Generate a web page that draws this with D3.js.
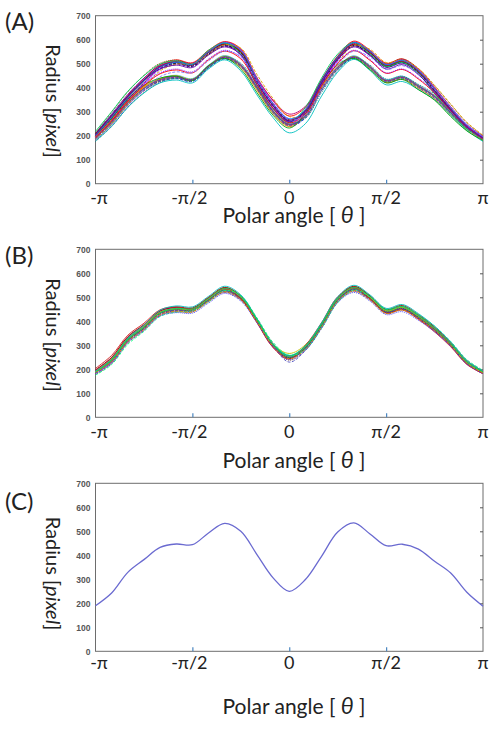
<!DOCTYPE html>
<html><head><meta charset="utf-8">
<script src="https://cdn.jsdelivr.net/npm/d3@7"></script>
<style>
html,body{margin:0;padding:0;background:#fff;}
svg{display:block;}
</style></head>
<body>
<svg id="chart" width="494" height="744"></svg>
<script>
// ---------------- DATA ----------------
const angleDeg = [-180,-165,-150,-135,-120,-105,-90,-75,-60,-45,-30,-15,0,15,30,45,60,75,90,105,120,135,150,165,180];
const xTickValues = [-Math.PI, -Math.PI/2, 0, Math.PI/2, Math.PI];
const xTickLabels = ["-\u03c0", "-\u03c0/2", "0", "\u03c0/2", "\u03c0"];
const yTickValues = [0,100,200,300,400,500,600,700];

// Panel A: individual radius profiles (upper and lower groups)
const curvesA = [
 [206,282,368,438,496,516,504,556,592,562,442,345,282,318,432,532,594,556,502,520,478,402,320,246,198],
 [194,264,346,416,478,498,488,538,572,542,420,322,258,292,410,512,572,538,486,503,460,384,305,234,188],
 [210,290,372,440,492,508,494,550,578,535,410,315,258,310,432,528,578,535,485,502,458,378,300,232,190],
 [192,258,340,410,475,502,498,540,582,560,445,345,272,292,405,510,582,556,498,515,475,402,322,248,196],
 [202,276,360,430,488,510,500,548,585,553,433,333,268,304,424,524,586,549,495,514,471,395,315,242,194],
 [198,268,350,420,482,502,490,540,575,546,426,326,262,296,414,516,576,540,488,506,464,388,308,236,190],
 [204,280,362,432,490,512,502,552,590,558,438,348,290,322,428,530,590,552,498,518,474,398,318,244,196],
 [196,266,348,418,480,500,492,542,576,548,428,328,262,298,416,518,574,543,490,508,466,390,310,238,190],
 [208,285,365,433,486,506,497,547,583,548,425,325,262,304,425,526,583,546,490,508,465,388,308,236,188],
 [195,262,345,418,483,507,498,550,586,556,437,337,268,296,414,516,584,550,497,514,472,397,318,245,197],
 [200,274,357,426,487,507,496,546,581,551,431,331,266,301,421,521,581,546,493,511,469,393,313,241,193],
 [212,298,382,452,502,515,500,550,584,548,428,330,266,304,424,526,586,550,500,520,480,408,330,254,200],
 [192,260,342,402,438,452,438,494,534,498,406,306,250,286,402,488,533,491,434,448,411,368,300,236,188],
 [184,250,328,388,426,438,426,482,520,486,394,294,240,274,388,476,521,479,422,436,399,356,290,228,182],
 [196,266,345,404,438,448,432,490,525,485,390,292,238,284,402,488,525,480,422,436,398,354,288,226,182],
 [180,246,326,386,426,442,432,486,528,498,408,308,250,276,388,476,528,490,432,446,410,368,300,236,188],
 [190,258,338,398,435,448,435,491,530,495,403,303,247,283,398,485,530,488,431,445,408,365,297,234,186],
 [186,252,332,392,429,442,429,485,524,489,397,297,243,277,392,479,524,482,425,439,402,359,292,230,183],
 [194,262,340,400,436,450,436,492,532,494,400,300,244,282,398,486,531,488,430,444,407,364,296,233,186],
 [182,248,330,390,428,440,428,484,522,490,400,302,248,278,390,478,523,484,427,440,404,362,296,234,188],
 [189,256,336,396,433,446,433,489,528,493,401,301,246,281,396,483,528,486,429,443,406,363,296,233,185],
 [187,254,334,394,431,444,431,487,526,491,399,299,244,279,394,481,526,484,427,441,404,361,294,231,184],
 [178,240,318,378,420,432,420,478,516,470,370,275,212,250,365,465,518,472,412,426,392,350,285,222,176],
 [191,258,337,397,434,447,434,490,529,494,402,302,247,282,397,484,529,487,430,444,407,364,297,234,187],
 [218,300,385,450,498,512,498,556,586,540,412,312,255,318,440,540,588,540,488,505,458,375,295,228,192],
 [186,250,330,402,470,498,500,538,578,565,455,355,280,288,398,502,576,560,505,515,480,410,332,256,202],
 [200,272,352,410,440,448,430,492,522,478,380,285,232,292,410,495,522,475,420,434,392,348,280,220,180],
 [176,238,318,380,422,440,434,484,528,502,415,315,256,272,380,470,526,494,436,448,414,374,306,242,192],
 [201,277,359,428,486,506,498,549,587,556,434,334,270,306,425,527,588,552,496,514,472,396,316,243,195],
 [190,257,336,396,431,444,432,489,526,492,401,302,244,282,396,484,527,486,428,442,406,363,296,233,186],
 [194,262,344,408,458,474,462,516,552,520,414,314,254,290,408,500,554,514,460,476,436,378,304,238,190],
 [198,268,350,414,462,478,466,520,556,526,420,318,258,294,412,504,556,518,462,478,440,382,308,240,192],
 [205,283,364,432,478,494,484,536,570,538,424,324,262,302,420,518,570,534,478,496,454,384,306,236,190],
 [183,244,324,392,446,466,462,512,552,530,428,330,266,286,394,492,552,528,476,492,456,392,318,246,196]
];

// Panel B: aligned radius profiles
const curvesB = [
 [194,244,330,382,442,458,452,498,540,506,410,306,255,296,390,498,544,505,448,462,424,373,309,232,190],
 [182,228,314,366,427,442,441,483,522,489,396,294,245,284,375,482,527,490,435,449,412,362,300,225,184],
 [196,248,334,384,442,455,450,494,532,494,396,292,244,292,388,496,538,494,436,450,412,360,298,222,182],
 [180,226,312,364,426,444,444,486,530,500,410,308,256,286,376,484,532,500,446,460,424,375,312,236,194],
 [190,238,325,376,437,452,449,493,533,500,406,303,252,292,385,493,538,500,444,458,421,370,307,230,189],
 [186,234,319,370,431,446,444,487,527,494,400,297,248,288,379,487,532,494,438,452,415,366,303,228,187],
 [192,242,328,380,440,456,452,496,537,503,408,302,252,294,387,495,541,502,446,460,422,371,308,231,190],
 [184,230,316,367,428,443,442,485,524,492,399,298,248,286,378,485,529,492,437,451,414,364,302,226,186],
 [189,237,323,374,435,450,448,491,531,498,404,301,251,291,383,491,536,498,442,456,419,369,306,229,188],
 [187,235,321,372,433,448,446,489,529,496,402,299,249,289,381,489,534,496,440,454,417,367,304,228,187],
 [198,250,336,386,444,460,456,499,541,504,404,298,246,294,390,498,546,506,450,466,428,376,312,236,192],
 [178,224,310,362,424,439,438,481,520,488,398,298,238,280,372,480,524,488,432,446,410,360,298,224,182],
 [191,240,326,378,438,453,450,494,535,502,407,303,253,293,386,494,539,501,445,459,421,370,307,230,189],
 [185,232,318,369,430,445,443,486,526,493,399,297,247,287,378,486,531,493,437,451,415,366,303,227,186],
 [193,245,331,381,439,452,448,492,534,499,404,300,250,292,386,494,538,498,442,456,420,370,306,229,187],
 [183,229,314,366,429,446,446,489,530,500,408,306,254,288,378,486,532,500,444,458,421,372,310,234,192],
 [190,236,322,375,436,451,449,492,532,499,405,302,250,290,384,492,537,499,443,457,420,369,306,230,189],
 [186,236,320,371,432,447,445,488,528,495,401,298,230,278,376,486,532,495,439,453,416,366,303,227,186],
 [189,238,324,375,436,452,450,494,536,502,406,304,266,302,390,494,540,500,444,458,420,369,306,229,188],
 [187,234,320,372,433,448,446,489,529,496,402,299,249,289,381,489,534,496,440,454,417,367,304,228,187],
 [204,258,342,392,448,460,452,500,536,494,394,290,242,300,394,502,540,494,434,448,408,356,294,220,182],
 [176,220,304,358,420,438,444,482,528,506,414,312,258,282,370,478,530,502,450,462,428,380,316,240,196],
 [192,242,330,384,446,464,460,504,546,510,410,304,258,298,394,502,550,510,454,470,432,380,314,236,192],
 [182,226,312,362,422,436,434,476,516,484,394,294,240,280,370,478,520,484,428,440,404,356,296,222,182],
 [188,240,326,376,436,454,452,496,538,504,408,304,256,296,388,496,542,504,448,462,424,372,308,230,190],
 [186,232,316,366,428,442,440,484,524,490,398,296,244,284,376,484,528,490,434,448,412,362,300,226,185]
];

// Panel C: mean profile
const meanC = [190,243,329,382,433,447,444,493,533,500,403,306,250,299,396,497,535,489,440,446,426,375,326,246,188];

const lineColors = ["#ff0000","#0000ff","#00a000","#ff00ff","#00c0c0","#000000","#c0c000","#8000ff",
  "#ff8000","#008080","#a00000","#4040ff","#c00070","#208020","#6000a0","#ff4080",
  "#0080ff","#804000","#00d060","#202080","#d02020","#8080ff","#00a0a0","#a000a0",
  "#40c0ff","#e0a000","#303030","#00ff80","#b03060","#5050c0"];

// ---------------- LAYOUT ----------------
const svg = d3.select("#chart");
const X0 = 95.5, X1 = 483, PH = 168;
const panels = [
  {tag:"(A)", top:15.7, curves:curvesA, tagY:30, tickY:203.5, titleY:222.5, yTitleC:101},
  {tag:"(B)", top:249.3, curves:curvesB, tagY:264, tickY:437.5, titleY:468, yTitleC:335},
  {tag:"(C)", top:483.3, curves:[meanC], tagY:510, tickY:668.5, titleY:713.5, yTitleC:573.5}
];
const x = d3.scaleLinear().domain([-Math.PI, Math.PI]).range([X0, X1]);
const labelFont = "Lato, 'Open Sans', sans-serif";

panels.forEach((p, pi) => {
  const y = d3.scaleLinear().domain([0,700]).range([p.top+PH, p.top]);
  const g = svg.append("g");

  // frame
  g.append("rect").attr("x",X0).attr("y",p.top).attr("width",X1-X0).attr("height",PH)
    .attr("fill","none").attr("stroke","#6d6d6d").attr("stroke-width",1);

  // left axis labels
  const ya = g.append("g").attr("transform",`translate(${X0},0)`)
    .call(d3.axisLeft(y).tickValues(yTickValues).tickSize(0).tickPadding(5).tickFormat(d3.format("d")));
  ya.select(".domain").remove();
  ya.selectAll("text").attr("font-family","'Liberation Sans Narrow','Arial Narrow',sans-serif")
    .attr("font-weight","bold").attr("font-size",8.5).attr("fill","#555");

  // right inner ticks
  const yr = g.append("g").attr("transform",`translate(${X1},0)`)
    .call(d3.axisRight(y).tickValues(yTickValues.slice(1,-1)).tickSize(-3).tickFormat(""));
  yr.select(".domain").remove();
  yr.selectAll("line").attr("stroke","#555");

  // bottom blue ticks
  const xa = g.append("g").attr("transform",`translate(0,${p.top+PH})`)
    .call(d3.axisBottom(x).tickValues(xTickValues.slice(1,-1)).tickSize(-4).tickFormat(""));
  xa.select(".domain").remove();
  xa.selectAll("line").attr("stroke","#4a86c0").attr("stroke-width",1.2);

  // x tick labels
  g.selectAll("text.xl").data(xTickValues).enter().append("text")
    .attr("x",(d,i)=>x(d) + (i===0?3.5:(i===1?-3:0))).attr("y",p.tickY)
    .attr("text-anchor","middle").attr("font-family",labelFont).attr("font-size",18).attr("fill","#222")
    .text((d,i)=>xTickLabels[i]);

  // x title
  const xt = g.append("text").attr("x",294).attr("y",p.titleY).attr("text-anchor","middle")
    .attr("font-family",labelFont).attr("font-size",21).attr("fill","#222");
  xt.append("tspan").text("Polar angle [ ");
  xt.append("tspan").attr("font-style","italic").attr("font-size",23).text("\u03b8");
  xt.append("tspan").text(" ]");

  // y title (rotated, reading top to bottom)
  const yt = g.append("text").attr("transform",`translate(46,${p.yTitleC}) rotate(90)`)
    .attr("text-anchor","middle").attr("font-family",labelFont).attr("font-size",20).attr("fill","#222");
  yt.append("tspan").text("Radius [");
  yt.append("tspan").attr("font-style","italic").text("pixel");
  yt.append("tspan").text("]");

  // panel tag
  g.append("text").attr("x",5).attr("y",p.tagY).attr("font-family",labelFont).attr("font-size",24)
    .attr("fill","#222").text(p.tag);

  // curves
  const line = d3.line().x((d,i)=>x(angleDeg[i]*Math.PI/180)).y(d=>y(d)).curve(d3.curveCatmullRom.alpha(0.5));
  const single = p.curves.length === 1;
  g.append("g").selectAll("path").data(p.curves).enter().append("path")
    .attr("d", line).attr("fill","none")
    .attr("stroke",(d,i)=> single ? "#6a6ad0" : lineColors[(i*7) % lineColors.length])
    .attr("stroke-width", single ? 1.3 : 0.9)
    .attr("stroke-dasharray",(d,i)=> single ? null : (i%4===1 ? "3,1.5" : (i%4===3 ? "1,1" : null)));
});
</script>
</body></html>
